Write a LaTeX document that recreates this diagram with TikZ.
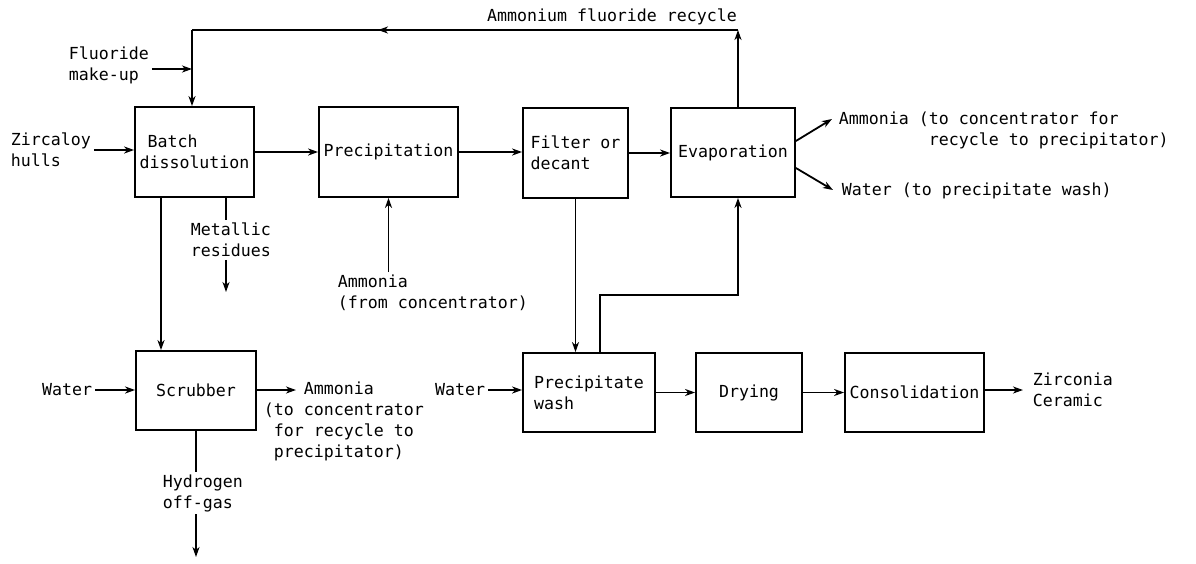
\documentclass[tikz,border=0pt]{standalone}
\usepackage{fontspec}
\setmainfont{DejaVu Sans Mono}
\usetikzlibrary{arrows.meta}

\begin{document}
\begin{tikzpicture}[x=1pt,y=-1pt,
        font=\fontsize{16.6}{21}\selectfont,
        line width=1.8pt,
        >={Stealth[length=10pt,width=7pt,inset=3pt]},
        unit/.style={draw,align=left,inner sep=0pt},
        lbl/.style={align=left,inner sep=2pt,anchor=west}]
            \useasboundingbox (0,0) rectangle (1196,563);
            \node[unit,minimum width=119pt,minimum height=90pt] (batch) at (194.5,152) {\hspace*{8pt}Batch\\dissolution};
            \node[unit,minimum width=139pt,minimum height=90pt] (precip) at (388.5,152) {Precipitation};
            \node[unit,minimum width=105pt,minimum height=90pt] (filter) at (575.5,153) {Filter or\\decant};
            \node[unit,minimum width=124pt,minimum height=89pt] (evap) at (733,152.5) {Evaporation};
            \node[unit,minimum width=120pt,minimum height=79pt] (scrub) at (196,390.5) {Scrubber};
            \node[unit,minimum width=132pt,minimum height=79pt] (wash) at (589,392.5) {Precipitate\\wash};
            \node[unit,minimum width=106pt,minimum height=79pt] (dry) at (749,392.5) {Drying};
            \node[unit,minimum width=139pt,minimum height=79pt] (consol) at (914.5,392.5) {Consolidation};

            \node[inner sep=2pt] (recycleLbl) at (612,17) {Ammonium fluoride recycle};
            \node[lbl] (fluorLbl) at (66,65) {Fluoride\\make-up};
            \node[lbl] (zircLbl) at (8,150) {Zircaloy\\hulls};
            \node[lbl] (metLbl) at (188,240) {Metallic\\residues};
            \node[lbl] (ammPrecLbl) at (335,293) {Ammonia\\(from concentrator)};
            \node[lbl] (ammEvapLbl) at (836,130) {Ammonia (to concentrator for\\\phantom{Ammonia (}recycle to precipitator)};
            \node[lbl] (waterEvapLbl) at (839,191) {Water (to precipitate wash)};
            \node[lbl,anchor=east] (waterScrLbl) at (95,390) {Water};
            \node[lbl] (ammScrLbl) at (261,421) {\phantom{(to }Ammonia\\(to concentrator\\\phantom{(}for recycle to\\\phantom{(}precipitator)};
            \node[lbl] (hydLbl) at (160,493) {Hydrogen\\off-gas};
            \node[lbl,anchor=east] (waterWashLbl) at (488,390) {Water};
            \node[lbl] (zircoLbl) at (1030,390) {Zirconia\\Ceramic};

            \coordinate (rcR) at (738,30);
            \coordinate (rcM) at (378,30);
            \coordinate (rcL) at (192,30);
            \coordinate (metOut) at (226,292);
            \coordinate (hydOut) at (196,557);
            \coordinate (scrAmm) at (296,390);

            \draw[->] ([xshift=5pt]evap.north) -- (rcR);
            \draw (rcR) -- (rcL);
            \draw[->] (rcR) -- (rcM);
            \draw[->] (rcL) -- (rcL |- batch.north);
            \draw[->] ([yshift=-4pt]fluorLbl.east) -- ([yshift=-4pt]fluorLbl.east -| rcL);
            \draw[->] (zircLbl.east) -- (zircLbl.east -| batch.west);
            \draw[->] (batch.east) -- (precip.west);
            \draw[->] (precip.east) -- (precip.east -| filter.west);
            \draw[->] (filter.east) -- (filter.east -| evap.west);
            \draw[->] ([yshift=11.5pt]evap.east) -- ([yshift=11pt,xshift=-4pt]ammEvapLbl.west);
            \draw[->] ([yshift=-15.5pt]evap.east) -- ([xshift=-6pt,yshift=1pt]waterEvapLbl.west);
            \draw (metOut |- batch.south) -- (metOut |- metLbl.north);
            \draw[->] (metOut |- metLbl.south) -- (metOut);
            \draw[->] ([xshift=-33.5pt]batch.south) -- ([xshift=-33.5pt]batch.south |- scrub.north);
            \draw[->] (precip.south |- ammPrecLbl.north) -- (precip.south);
            \draw[->] (filter.south) -- (filter.south |- wash.north);
            \draw[->] ([xshift=11pt]wash.north) -- ++(0,-57) -| ([xshift=5pt]evap.south);
            \draw[->] (waterScrLbl.east) -- (waterScrLbl.east -| scrub.west);
            \draw[->] (scrub.east |- scrAmm) -- (scrAmm);
            \draw (scrub.south) -- (scrub.south |- hydLbl.north);
            \draw[->] (hydOut |- hydLbl.south) -- (hydOut);
            \draw[->] (waterWashLbl.east) -- (waterWashLbl.east -| wash.west);
            \draw[->] (wash.east) -- (wash.east -| dry.west);
            \draw[->] (dry.east) -- (dry.east -| consol.west);
            \draw[->] (consol.east |- zircoLbl.west) -- ([xshift=-7pt]zircoLbl.west);
        \end{tikzpicture}
\end{document}
